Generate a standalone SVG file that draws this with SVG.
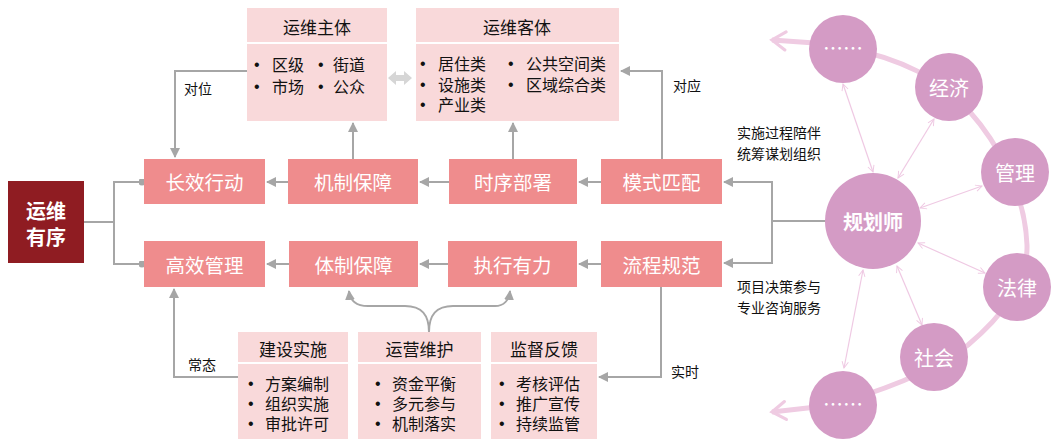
<svg xmlns="http://www.w3.org/2000/svg" width="1060" height="447" viewBox="0 0 1060 447">
<defs>
<style>
text{font-family:"Microsoft YaHei","Noto Sans CJK SC","Noto Sans",sans-serif;}
.main{fill:#ef8c8d;}
.mt{fill:#fff;font-size:19.5px;text-anchor:middle;dominant-baseline:central;}
.sub{fill:#f9d9da;}
.hd{fill:#111;font-size:17px;text-anchor:middle;dominant-baseline:central;}
.bl{fill:#111;font-size:16px;dominant-baseline:central;}
.dt{fill:#111;font-size:16px;font-family:"Liberation Sans",Arial,sans-serif;dominant-baseline:central;}
.lb{fill:#111;font-size:14px;dominant-baseline:central;}
.con{fill:none;stroke:#a6a6a6;stroke-width:2;}
.circ{fill:#d49bc5;}
.ct{fill:#fff;font-size:20px;text-anchor:middle;dominant-baseline:central;}
.thin{fill:none;stroke:#efc9e3;stroke-width:1.2;marker-start:url(#pa);marker-end:url(#pa);}
.sep{stroke:#fff;stroke-width:2;}
</style>
<marker id="ga" viewBox="0 0 10 10" refX="9" refY="5" markerWidth="5" markerHeight="5" orient="auto-start-reverse" markerUnits="strokeWidth">
<path d="M0,0 L10,5 L0,10 z" fill="#a6a6a6"/>
</marker>
<marker id="gd" viewBox="0 0 10 10" refX="5" refY="5" markerWidth="3.5" markerHeight="3.5" markerUnits="strokeWidth">
<circle cx="5" cy="5" r="5" fill="#a6a6a6"/>
</marker>
<marker id="pa" viewBox="0 0 10 10" refX="9" refY="5" markerWidth="8" markerHeight="8" orient="auto-start-reverse" markerUnits="userSpaceOnUse">
<path d="M1,1 L9,5 L1,9" fill="none" stroke="#efc9e3" stroke-width="1.2"/>
</marker>
<marker id="big" viewBox="0 0 10 10" refX="8" refY="5" markerWidth="4.5" markerHeight="4.5" orient="auto" markerUnits="strokeWidth">
<path d="M2,1 L8,5 L2,9" fill="none" stroke="#efcbe2" stroke-width="1.4" stroke-linecap="round"/>
</marker>
</defs>

<g id="connectors">
<polyline class="con" points="84,222 114,222"/>
<polyline class="con" points="142,182 114,182 114,264 142,264" marker-start="url(#gd)" marker-end="url(#gd)"/>
<line class="con" x1="288" y1="182" x2="267" y2="182" marker-end="url(#ga)"/>
<line class="con" x1="449" y1="182" x2="420" y2="182" marker-end="url(#ga)"/>
<line class="con" x1="601" y1="182" x2="579" y2="182" marker-end="url(#ga)"/>
<line class="con" x1="289" y1="264" x2="267" y2="264" marker-end="url(#ga)"/>
<line class="con" x1="448" y1="264" x2="420" y2="264" marker-end="url(#ga)"/>
<line class="con" x1="601" y1="264" x2="579" y2="264" marker-end="url(#ga)"/>
<polyline class="con" points="247,71 175,71 175,157" marker-end="url(#ga)"/>
<line class="con" x1="353" y1="159" x2="353" y2="123" marker-end="url(#ga)"/>
<line class="con" x1="513" y1="159" x2="513" y2="123" marker-end="url(#ga)"/>
<polyline class="con" points="662,159 662,71 621,71" marker-end="url(#ga)"/>
<polyline class="con" points="238,377 174,377 174,289" marker-end="url(#ga)"/>
<polyline class="con" points="661,287 661,377 599,377" marker-end="url(#ga)"/>
<path class="con" d="M429,332 C429,315 422,306 405,306 L368,306 C356,306 350,300 349,291" marker-end="url(#ga)"/>
<path class="con" d="M429,332 C429,315 436,306 453,306 L495,306 C504,306 509,300 510,291" marker-end="url(#ga)"/>
<path d="M388,78 L396,71 L396,75 L404,75 L404,71 L412,78 L404,85 L404,81 L396,81 L396,85 z" fill="#d6d6d6"/>
<polyline class="con" points="826,221 772,221"/>
<polyline class="con" points="724,182 772,182 772,263 724,263" marker-start="url(#ga)" marker-end="url(#ga)"/>
<path d="M843,47 C900,58 945,80 970,112 C995,140 1025,190 1027,245 C1028,285 1000,318 968,345 C940,366 905,383 843,402" fill="none" stroke="#efcbe2" stroke-width="5"/>
<line x1="843" y1="45" x2="772" y2="40" stroke="#efcbe2" stroke-width="5" marker-end="url(#big)"/>
<line x1="843" y1="404" x2="772" y2="412" stroke="#efcbe2" stroke-width="5" marker-end="url(#big)"/>
<line class="thin" x1="873" y1="172" x2="843" y2="84"/>
<line class="thin" x1="898" y1="178" x2="934" y2="119"/>
<line class="thin" x1="920" y1="208" x2="982" y2="186"/>
<line class="thin" x1="918" y1="243" x2="985" y2="273"/>
<line class="thin" x1="897" y1="266" x2="922" y2="325"/>
<line class="thin" x1="863" y1="270" x2="844" y2="368"/>
</g>

<g id="labels">
<text class="lb" x="184" y="88">对位</text>
<text class="lb" x="673" y="85">对应</text>
<text class="lb" x="188" y="364">常态</text>
<text class="lb" x="671" y="371">实时</text>
<text class="lb" x="737" y="132">实施过程陪伴</text>
<text class="lb" x="737" y="153">统筹谋划组织</text>
<text class="lb" x="737" y="286">项目决策参与</text>
<text class="lb" x="737" y="307">专业咨询服务</text>
</g>

<g id="root"><rect x="8" y="181" width="76" height="82" fill="#8f1c22"/>
<text x="46" y="210" fill="#fff" font-size="20" font-weight="bold" text-anchor="middle" dominant-baseline="central">运维</text>
<text x="46" y="236" fill="#fff" font-size="20" font-weight="bold" text-anchor="middle" dominant-baseline="central">有序</text></g>

<g id="n-changxiao"><rect class="main" x="144" y="159" width="121" height="45"/><text class="mt" x="204.5" y="181.5">长效行动</text></g>
<g id="n-jizhi"><rect class="main" x="288" y="159" width="130" height="45"/><text class="mt" x="353" y="181.5">机制保障</text></g>
<g id="n-shixu"><rect class="main" x="449" y="159" width="128" height="45"/><text class="mt" x="513" y="181.5">时序部署</text></g>
<g id="n-moshi"><rect class="main" x="601" y="159" width="121" height="45"/><text class="mt" x="661.5" y="181.5">模式匹配</text></g>
<g id="n-gaoxiao"><rect class="main" x="144" y="241" width="121" height="46"/><text class="mt" x="204.5" y="264">高效管理</text></g>
<g id="n-tizhi"><rect class="main" x="289" y="241" width="129" height="46"/><text class="mt" x="353.5" y="264">体制保障</text></g>
<g id="n-zhixing"><rect class="main" x="448" y="241" width="129" height="46"/><text class="mt" x="512.5" y="264">执行有力</text></g>
<g id="n-liucheng"><rect class="main" x="601" y="241" width="121" height="46"/><text class="mt" x="661.5" y="264">流程规范</text></g>

<g id="n-zhuti"><rect class="sub" x="247" y="8" width="140" height="113"/><line class="sep" x1="247" y1="43" x2="387" y2="43"/>
<text class="hd" x="317" y="26">运维主体</text>
<text class="dt" x="254" y="64">•</text><text class="bl" x="272" y="64">区级</text>
<text class="dt" x="318" y="64">•</text><text class="bl" x="333" y="64">街道</text>
<text class="dt" x="254" y="86">•</text><text class="bl" x="272" y="86">市场</text>
<text class="dt" x="318" y="86">•</text><text class="bl" x="333" y="86">公众</text></g>

<g id="n-keti"><rect class="sub" x="416" y="8" width="203" height="113"/><line class="sep" x1="416" y1="43" x2="619" y2="43"/>
<text class="hd" x="517" y="26">运维客体</text>
<text class="dt" x="420" y="63">•</text><text class="bl" x="438" y="63">居住类</text>
<text class="dt" x="420" y="84">•</text><text class="bl" x="438" y="84">设施类</text>
<text class="dt" x="420" y="104">•</text><text class="bl" x="438" y="104">产业类</text>
<text class="dt" x="508" y="63">•</text><text class="bl" x="526" y="63">公共空间类</text>
<text class="dt" x="508" y="84">•</text><text class="bl" x="526" y="84">区域综合类</text></g>

<g id="n-jianshe"><rect class="sub" x="238" y="332" width="110" height="107"/><line class="sep" x1="238" y1="363" x2="348" y2="363"/>
<text class="hd" x="293" y="348">建设实施</text>
<text class="dt" x="248" y="383">•</text><text class="bl" x="265" y="383">方案编制</text>
<text class="dt" x="248" y="403">•</text><text class="bl" x="265" y="403">组织实施</text>
<text class="dt" x="248" y="423">•</text><text class="bl" x="265" y="423">审批许可</text></g>

<g id="n-yunying"><rect class="sub" x="358" y="332" width="123" height="107"/><line class="sep" x1="358" y1="363" x2="481" y2="363"/>
<text class="hd" x="419.5" y="348">运营维护</text>
<text class="dt" x="375" y="383">•</text><text class="bl" x="392" y="383">资金平衡</text>
<text class="dt" x="375" y="403">•</text><text class="bl" x="392" y="403">多元参与</text>
<text class="dt" x="375" y="423">•</text><text class="bl" x="392" y="423">机制落实</text></g>

<g id="n-jiandu"><rect class="sub" x="491" y="332" width="106" height="107"/><line class="sep" x1="491" y1="363" x2="597" y2="363"/>
<text class="hd" x="544" y="348">监督反馈</text>
<text class="dt" x="499" y="383">•</text><text class="bl" x="516" y="383">考核评估</text>
<text class="dt" x="499" y="403">•</text><text class="bl" x="516" y="403">推广宣传</text>
<text class="dt" x="499" y="423">•</text><text class="bl" x="516" y="423">持续监管</text></g>

<g id="c-planner"><circle class="circ" cx="873" cy="221" r="48"/><text class="ct" x="873" y="221" font-weight="bold">规划师</text></g>
<g id="c-top"><circle class="circ" cx="843" cy="49" r="34"/><text class="ct" x="843" y="47" font-size="18">……</text></g>
<g id="c-jingji"><circle class="circ" cx="949" cy="87" r="34"/><text class="ct" x="949" y="87">经济</text></g>
<g id="c-guanli"><circle class="circ" cx="1015" cy="172" r="34"/><text class="ct" x="1015" y="172">管理</text></g>
<g id="c-falv"><circle class="circ" cx="1017" cy="287" r="34"/><text class="ct" x="1017" y="287">法律</text></g>
<g id="c-shehui"><circle class="circ" cx="934" cy="357" r="34"/><text class="ct" x="934" y="357">社会</text></g>
<g id="c-bottom"><circle class="circ" cx="843" cy="405" r="34"/><text class="ct" x="843" y="403" font-size="18">……</text></g>
</svg>
